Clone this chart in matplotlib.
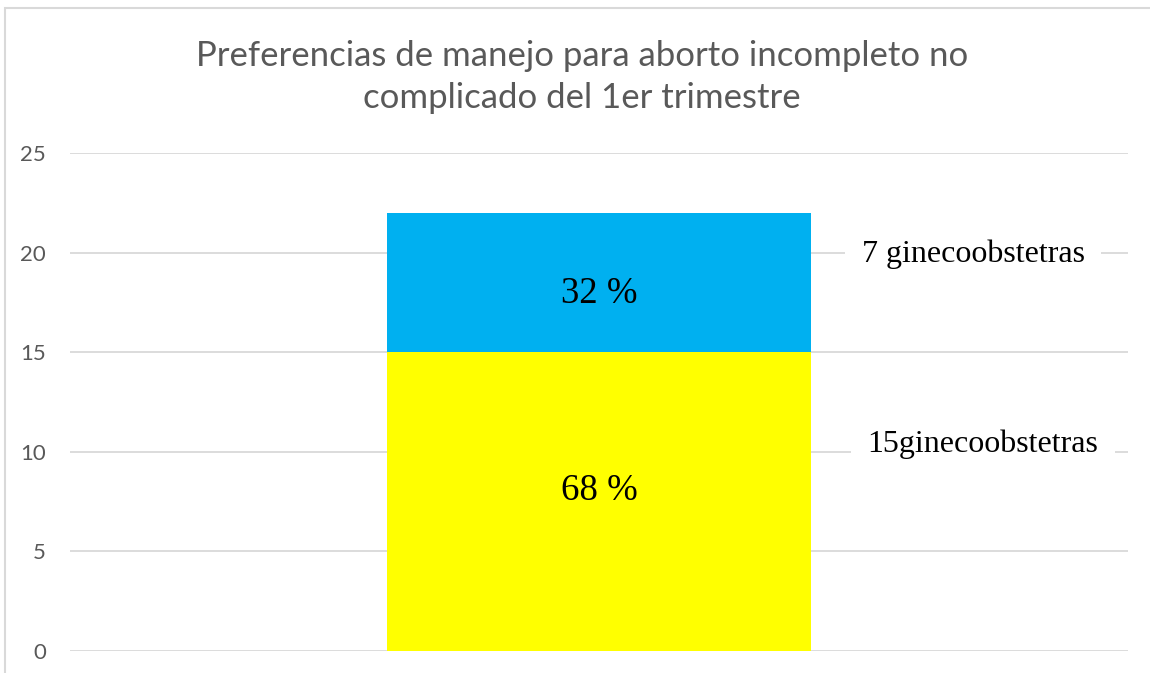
import matplotlib
matplotlib.use("Agg")
import matplotlib.pyplot as plt
from matplotlib.patches import Rectangle

# Data
categories = [""]
series_names = ["15ginecoobstetras", "7 ginecoobstetras"]
yellow_vals = [15]
blue_vals = [7]
yticks = [0, 5, 10, 15, 20, 25]
title = "Preferencias de manejo para aborto incompleto no\ncomplicado del 1er trimestre"

fig = plt.figure(figsize=(11.5, 6.73), dpi=100)
ax = fig.add_axes([70/1150, 22/673, (1128-70)/1150, (651-153)/673])

x = list(range(len(categories)))
ax.bar(x, yellow_vals, width=0.4, color="#FFFF00", zorder=2)
ax.bar(x, blue_vals, width=0.4, bottom=yellow_vals, color="#00B0F0", zorder=2)

ax.set_xlim(-0.5, 0.5)
ax.set_ylim(0, 25)
ax.set_yticks(yticks)
ax.set_xticks([])
for s in ax.spines.values():
    s.set_visible(False)
ax.grid(axis="y", color="#D9D9D9", linewidth=1.3, zorder=0)
ax.tick_params(axis="y", length=0, pad=17.3, labelsize=16, labelcolor="#595959")
for lbl in ax.get_yticklabels():
    lbl.set_fontfamily("Lato")

total = yellow_vals[0] + blue_vals[0]
pct_y = round(100 * yellow_vals[0] / total)
pct_b = round(100 * blue_vals[0] / total)

serif = "Liberation Serif"
ax.text(x[0], yellow_vals[0] / 2 + 0.53, f"{pct_y} %", ha="center", va="center",
        fontsize=26.5, family=serif, color="black", zorder=3)
ax.text(x[0], yellow_vals[0] + blue_vals[0] / 2 - 0.58, f"{pct_b} %", ha="center", va="center",
        fontsize=26.5, family=serif, color="black", zorder=3)

ax.text(0.3535, 19.9, series_names[1], ha="center", va="center", fontsize=23,
        family=serif, color="black", zorder=3,
        bbox=dict(facecolor="white", edgecolor="none", pad=12))
ax.text(0.363, 10.4, series_names[0], ha="center", va="center", fontsize=23,
        family=serif, color="black", zorder=3,
        bbox=dict(facecolor="white", edgecolor="none", pad=12))

fig.text(582/1150, 1 - 77/673, title, ha="center", va="center", fontsize=25,
         family="Lato", color="#595959", linespacing=1.38)

# chart-area border
fig.patches.append(Rectangle((5/1150, -0.05), 1.2, 1 - 8/673 + 0.05,
                             transform=fig.transFigure, fill=False,
                             edgecolor="#D9D9D9", linewidth=1.5))

fig.savefig("out.png", dpi=100)
